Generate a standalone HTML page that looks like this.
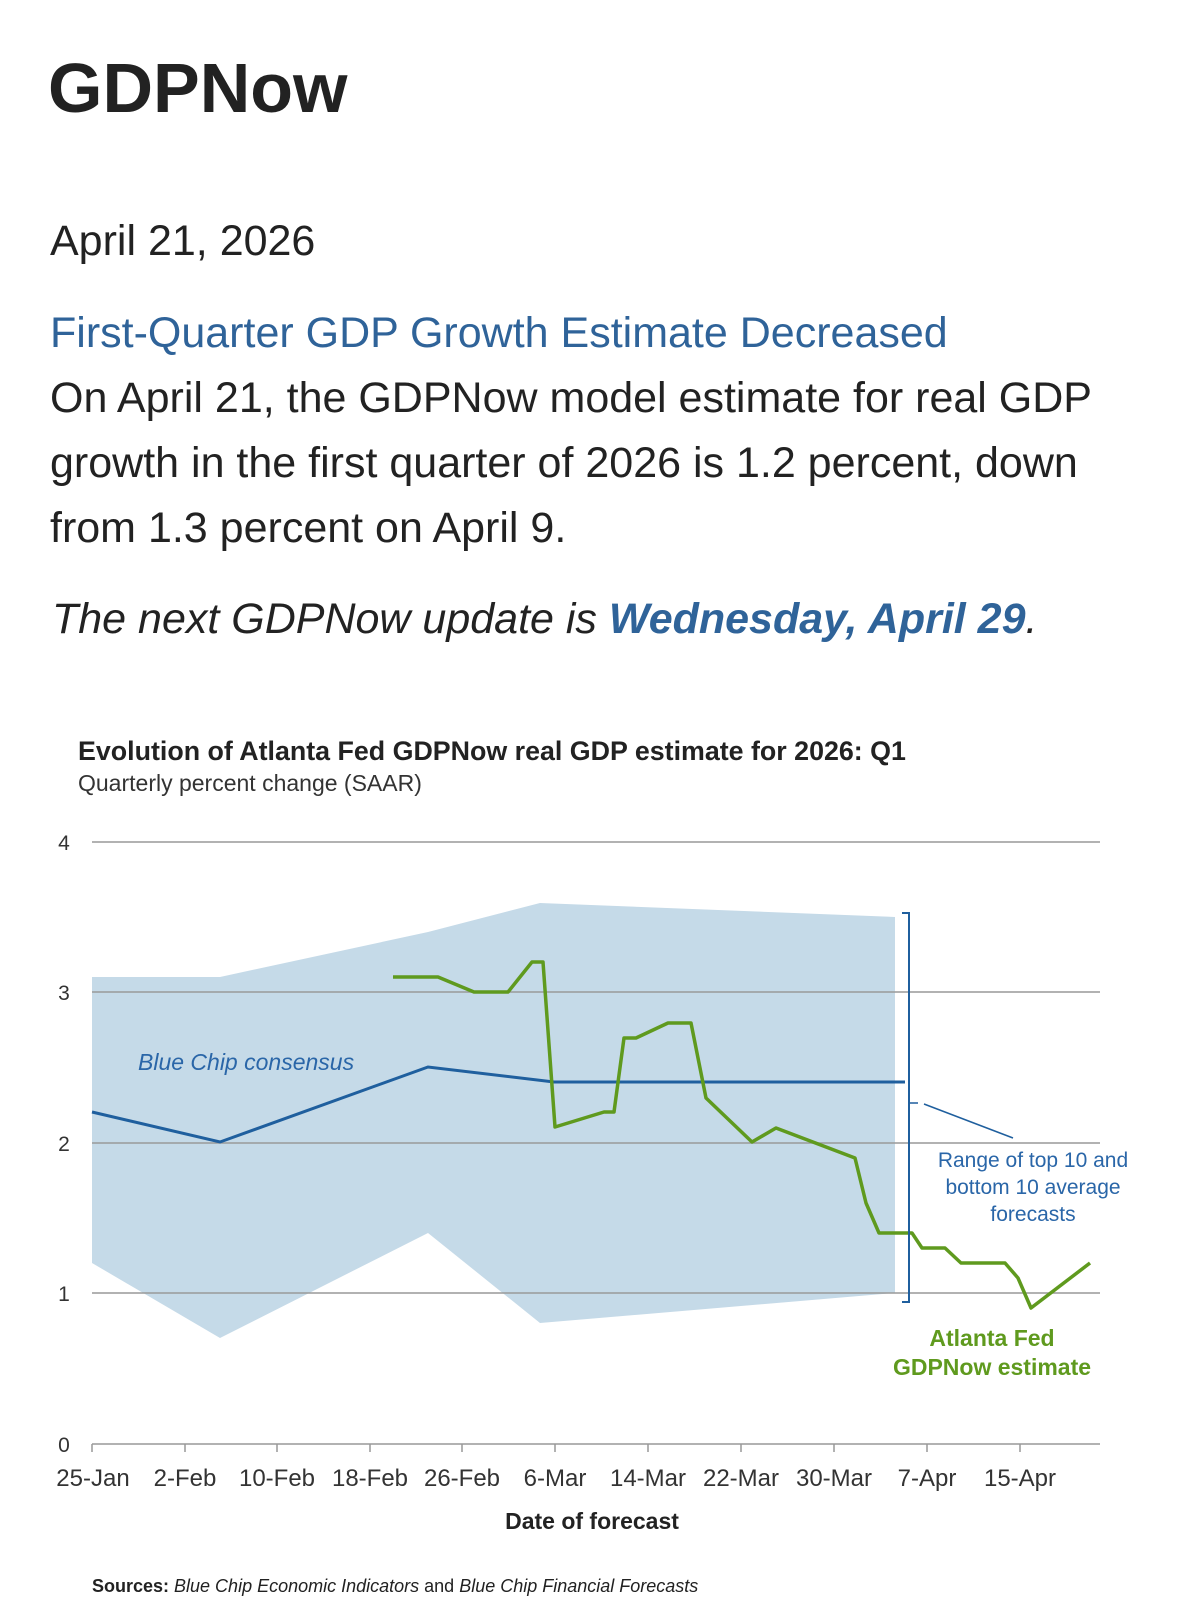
<!DOCTYPE html>
<html><head><meta charset="utf-8"><style>
body{margin:0;width:1200px;height:1601px;background:#fff;overflow:hidden}
</style></head><body>
<svg style="position:absolute;left:0;top:0" width="1200" height="1601" font-family="Liberation Sans, sans-serif">
<text x="48" y="112" font-size="70" font-weight="bold" fill="#222">GDPNow</text>
<text x="50" y="255" font-size="43" fill="#222">April 21, 2026</text>
<text x="50" y="347" font-size="43" fill="#2f6399">First-Quarter GDP Growth Estimate Decreased</text>
<g font-size="43" fill="#222">
<text x="50" y="412">On April 21, the GDPNow model estimate for real GDP</text>
<text x="50" y="477">growth in the first quarter of 2026 is 1.2 percent, down</text>
<text x="50" y="542">from 1.3 percent on April 9.</text>
</g>
<text x="52" y="633" font-size="43" font-style="italic" fill="#222">The next GDPNow update is <tspan font-weight="bold" fill="#2f6399">Wednesday, April 29</tspan>.</text>

<text x="78" y="760" font-size="26.8" font-weight="bold" fill="#222">Evolution of Atlanta Fed GDPNow real GDP estimate for 2026: Q1</text>
<text x="78" y="791" font-size="23" fill="#333">Quarterly percent change (SAAR)</text>
<polygon points="92,977 220,977 428,932 540,903 895,917 895,1293 540,1323 428,1233 220,1338 92,1263" fill="#c5dae8"/>
<g stroke="#999" stroke-width="1.5">
<line x1="92" y1="842" x2="1100" y2="842"/><line x1="92" y1="992" x2="1100" y2="992"/><line x1="92" y1="1143" x2="1100" y2="1143"/><line x1="92" y1="1293" x2="1100" y2="1293"/><line x1="92" y1="1444" x2="1100" y2="1444"/>
<line x1="92" y1="1444" x2="92" y2="1452"/><line x1="185" y1="1444" x2="185" y2="1452"/><line x1="277" y1="1444" x2="277" y2="1452"/><line x1="370" y1="1444" x2="370" y2="1452"/><line x1="462" y1="1444" x2="462" y2="1452"/><line x1="555" y1="1444" x2="555" y2="1452"/><line x1="648" y1="1444" x2="648" y2="1452"/><line x1="741" y1="1444" x2="741" y2="1452"/><line x1="834" y1="1444" x2="834" y2="1452"/><line x1="927" y1="1444" x2="927" y2="1452"/><line x1="1020" y1="1444" x2="1020" y2="1452"/>
</g>
<g font-size="21" fill="#333" text-anchor="middle">
<text x="64" y="850">4</text><text x="64" y="1000">3</text><text x="64" y="1151">2</text><text x="64" y="1301">1</text><text x="64" y="1452">0</text>
</g>
<g font-size="24" fill="#333" text-anchor="middle">
<text x="93" y="1486">25-Jan</text><text x="185" y="1486">2-Feb</text><text x="277" y="1486">10-Feb</text><text x="370" y="1486">18-Feb</text><text x="462" y="1486">26-Feb</text><text x="555" y="1486">6-Mar</text><text x="648" y="1486">14-Mar</text><text x="741" y="1486">22-Mar</text><text x="834" y="1486">30-Mar</text><text x="927" y="1486">7-Apr</text><text x="1020" y="1486">15-Apr</text>
</g>
<text x="592" y="1529" font-size="23" font-weight="bold" fill="#222" text-anchor="middle">Date of forecast</text>
<text x="92" y="1592" font-size="18" fill="#222"><tspan font-weight="bold">Sources: </tspan><tspan font-style="italic">Blue Chip Economic Indicators</tspan> and <tspan font-style="italic">Blue Chip Financial Forecasts</tspan></text>
<polyline points="92,1112 220,1142 428,1067 554,1082 905,1082" fill="none" stroke="#1f5f9e" stroke-width="3"/>
<polyline points="393,977 438,977 474,992 508,992 532,962 543,962 555,1127 604,1112 614,1112 624,1038 636,1038 668,1023 691,1023 706,1098 752,1142 776,1128 855,1158 866,1203 879,1233 912,1233 922,1248 945,1248 961,1263 1005,1263 1018,1278 1031,1308 1090,1263" fill="none" stroke="#5f9a1e" stroke-width="3.5" stroke-linejoin="round"/>
<path d="M902,913 L909,913 L909,1302 L902,1302" fill="none" stroke="#1f5f9e" stroke-width="2"/>
<path d="M910,1103 L918,1103 M924,1104 L1013,1138" fill="none" stroke="#1f5f9e" stroke-width="1.5"/>
<text x="138" y="1070" font-size="23" font-style="italic" fill="#2a66a8">Blue Chip consensus</text>
<g font-size="21" fill="#2a66a8" text-anchor="middle"><text x="1033" y="1167">Range of top 10 and</text><text x="1033" y="1194">bottom 10 average</text><text x="1033" y="1221">forecasts</text></g>
<g font-size="23" font-weight="bold" fill="#5f9a1e" text-anchor="middle"><text x="992" y="1346">Atlanta Fed</text><text x="992" y="1375">GDPNow estimate</text></g>
</svg>
</body></html>
